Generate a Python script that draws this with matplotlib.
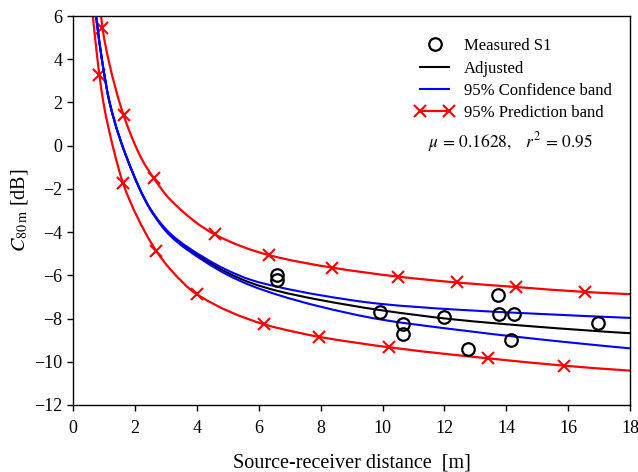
import matplotlib
matplotlib.use("Agg")
import matplotlib.pyplot as plt
from matplotlib.lines import Line2D
from matplotlib.path import Path
from matplotlib.patches import PathPatch
from matplotlib.legend_handler import HandlerLine2D
import numpy as np

plt.rcParams['font.family'] = ['Liberation Serif', 'DejaVu Serif']
plt.rcParams['mathtext.fontset'] = 'stix'

# measured points (S1)
meas_x = [6.61, 6.61, 9.93, 10.66, 10.66, 11.98, 12.77, 13.74, 13.76, 14.23, 14.14, 16.95]
meas_y = [-6.00, -6.22, -7.69, -8.25, -8.72, -7.92, -9.41, -6.92, -7.77, -7.81, -9.00, -8.20]

# adjusted curve
adj_x = [0.755, 0.94, 1.19, 1.77, 2.51, 3.15, 4.23, 5.0, 5.75, 6.61, 7.91, 9.93, 12.3, 15.0, 18.0]
adj_y = [6.0, 4.0, 2.0, -0.65, -2.95, -4.12, -5.25, -5.88, -6.35, -6.72, -7.12, -7.61, -8.04, -8.38, -8.68]

# 95% confidence band
conf_up_x = [0.755, 0.94, 1.19, 1.77, 2.51, 3.15, 4.23, 5.0, 5.75, 6.61, 7.91, 9.93, 12.3, 15.0, 18.0]
conf_up_y = [6.0, 4.0, 2.0, -0.65, -2.93, -4.07, -5.17, -5.77, -6.21, -6.53, -6.9, -7.32, -7.58, -7.78, -7.97]
conf_lo_x = [0.755, 0.94, 1.19, 1.77, 2.51, 3.15, 4.23, 5.0, 5.75, 6.61, 7.91, 9.93, 12.3, 15.0, 18.0]
conf_lo_y = [6.0, 4.0, 2.0, -0.65, -2.97, -4.17, -5.33, -5.98, -6.47, -6.9, -7.42, -8.04, -8.5, -8.95, -9.38]

# 95% prediction band: line points and the x-marked points
pred_up_x = [0.917, 1.15, 2.24, 3.15, 18.0]
pred_up_y = [6.0, 4.0, -0.65, -2.5, -6.87]
pred_up_mx = [0.96, 1.64, 2.61, 4.59, 6.32, 8.36, 10.50, 12.39, 14.31, 16.55]
pred_up_my = [5.46, 1.42, -1.49, -4.11, -5.06, -5.64, -6.06, -6.33, -6.54, -6.77]

pred_lo_x = [0.65, 0.99, 1.32, 2.07, 3.15, 7.37, 12.24, 18.0]
pred_lo_y = [6.0, 2.0, -0.18, -3.26, -5.72, -8.68, -9.67, -10.41]
pred_lo_mx = [0.86, 1.62, 2.70, 4.0, 6.16, 7.96, 10.21, 13.40, 15.85]
pred_lo_my = [3.28, -1.72, -4.88, -6.87, -8.26, -8.85, -9.33, -9.84, -10.18]

x_ticks = [0, 2, 4, 6, 8, 10, 12, 14, 16, 18]
y_ticks = [-12, -10, -8, -6, -4, -2, 0, 2, 4, 6]


def merge(xs, ys, mx, my):
    x = np.concatenate([xs, mx])
    y = np.concatenate([ys, my])
    order = np.argsort(x)
    return x[order], y[order]


def end_slope(h0, h1, d0, d1):
    m = ((2 * h0 + h1) * d0 - h0 * d1) / (h0 + h1)
    if np.sign(m) != np.sign(d0):
        m = 0.0
    elif np.sign(d0) != np.sign(d1) and abs(m) > abs(3 * d0):
        m = 3 * d0
    return m


def smooth_path(xs, ys):
    # monotone cubic (pchip-style) drawn as bezier segments through the read points
    x = np.asarray(xs, float)
    y = np.asarray(ys, float)
    h = np.diff(x)
    d = np.diff(y) / h
    n = len(x)
    m = np.zeros(n)
    for k in range(1, n - 1):
        if d[k - 1] * d[k] > 0:
            w1 = 2 * h[k] + h[k - 1]
            w2 = h[k] + 2 * h[k - 1]
            m[k] = (w1 + w2) / (w1 / d[k - 1] + w2 / d[k])
    m[0] = end_slope(h[0], h[1], d[0], d[1])
    m[-1] = end_slope(h[-1], h[-2], d[-1], d[-2])
    verts = [(x[0], y[0])]
    codes = [Path.MOVETO]
    for k in range(n - 1):
        verts += [(x[k] + h[k] / 3, y[k] + m[k] * h[k] / 3),
                  (x[k + 1] - h[k] / 3, y[k + 1] - m[k + 1] * h[k] / 3),
                  (x[k + 1], y[k + 1])]
        codes += [Path.CURVE4] * 3
    return Path(verts, codes)


def curve(ax, xs, ys, color, lw, z):
    ax.add_patch(PathPatch(smooth_path(xs, ys), fill=False, edgecolor=color,
                           lw=lw, zorder=z, capstyle='butt', joinstyle='round'))


fig = plt.figure(figsize=(6.38, 4.72), dpi=100)
ax = fig.add_axes([0.114, 0.142, 0.874, 0.824])

red = '#ff0000'
blue = '#0000ff'

for xs, ys, mx, my in [(pred_up_x, pred_up_y, pred_up_mx, pred_up_my),
                       (pred_lo_x, pred_lo_y, pred_lo_mx, pred_lo_my)]:
    lx, ly = merge(xs, ys, mx, my)
    curve(ax, lx, ly, red, 1.6, 2)
    ax.plot(mx, my, ls='none', marker='x', ms=8, mew=1.5, color=red, zorder=2)

curve(ax, adj_x, adj_y, 'black', 1.5, 3)
curve(ax, conf_up_x, conf_up_y, blue, 1.5, 4)
curve(ax, conf_lo_x, conf_lo_y, blue, 1.5, 4)

ax.plot(meas_x, meas_y, ls='none', marker='o', ms=9, mfc='none', mec='black', mew=1.6, zorder=5)

ax.set_xlim(0, 18)
ax.set_ylim(-12, 6)
ax.set_xticks(x_ticks)
ax.set_yticks(y_ticks)
ax.set_yticklabels([str(v).replace('-', '\u2212') for v in y_ticks])
ax.tick_params(direction='out', length=4, width=1, labelsize=13)
ax.tick_params(axis='x', pad=7)
for s in ax.spines.values():
    s.set_linewidth(1.0)

ax.set_xlabel('Source-receiver distance  [m]', fontsize=14.5, labelpad=12)
ax.set_ylabel(r'$C_{\mathrm{80\,m}}$ [dB]', fontsize=14.5, labelpad=3)

circ = Line2D([], [], ls='none', marker='o', ms=9, mfc='none', mec='black', mew=1.6)
handles = [
    circ,
    Line2D([], [], color='black', lw=1.5),
    Line2D([], [], color=blue, lw=1.5),
    Line2D([], [], color=red, lw=1.6, marker='x', ms=8, mew=1.5),
]
labels = ['Measured S1', 'Adjusted', '95% Confidence band', '95% Prediction band']
ax.legend(handles, labels, loc='upper left', bbox_to_anchor=(0.614, 0.943),
          frameon=False, fontsize=12, handlelength=2.35, handletextpad=0.6,
          labelspacing=0.38, borderpad=0, borderaxespad=0, numpoints=2,
          handler_map={circ: HandlerLine2D(numpoints=1)})

ax.text(0.638, 0.676, r'$\mu\,=\,0.1628, \quad r^2\,=\,0.95$', transform=ax.transAxes,
        fontsize=12.5, va='center', ha='left')

fig.savefig('out.png', dpi=100)
